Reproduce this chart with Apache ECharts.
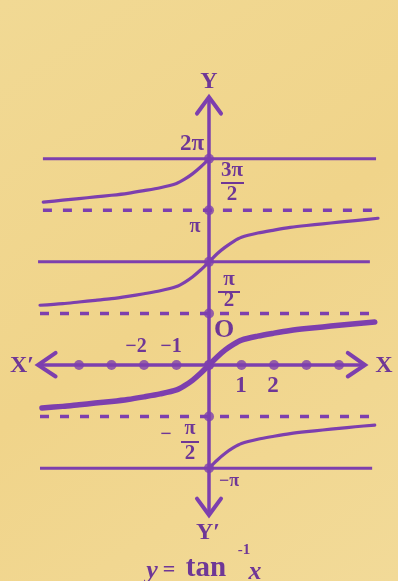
<!DOCTYPE html>
<html>
<head>
<meta charset="utf-8">
<script src="https://cdn.jsdelivr.net/npm/echarts@6/dist/echarts.min.js"></script>
<style>
html,body{margin:0;padding:0;background:#efd58f;}
#c{width:398px;height:581px;}
</style>
</head>
<body>
<div id="c"></div>
<script>
// ---- data (x in units, y in radians) ----
var PI = Math.PI;
var principalX = [-5.14, -4.5, -4, -3.5, -3, -2.5, -2, -1.5, -1, -0.75, -0.5, -0.25, 0, 0.25, 0.5, 0.75, 1, 1.5, 2, 2.5, 3, 3.5, 4, 4.5, 5.1];
var principalY = [-1.31, -1.26, -1.21, -1.16, -1.11, -1.05, -0.97, -0.88, -0.76, -0.63, -0.46, -0.245, 0, 0.245, 0.46, 0.63, 0.76, 0.88, 0.97, 1.05, 1.11, 1.16, 1.21, 1.26, 1.31];
var piBranchX = [-5.2, -4.5, -4, -3.5, -3, -2.5, -2, -1.5, -1, -0.75, -0.5, -0.25, 0, 0.25, 0.5, 0.75, 1, 1.5, 2, 2.5, 3, 3.5, 4, 4.5, 5.2];
var piBranchY = [1.82, 1.87, 1.92, 1.97, 2.02, 2.09, 2.17, 2.26, 2.39, 2.52, 2.69, 2.9, 3.14, 3.39, 3.59, 3.76, 3.89, 4.02, 4.11, 4.19, 4.25, 4.30, 4.35, 4.40, 4.47];
var twoPiBranchX = [-5.1, -4.5, -4, -3.5, -3, -2.5, -2, -1.5, -1, -0.75, -0.5, -0.25, 0];
var twoPiBranchY = [4.96, 5.02, 5.07, 5.12, 5.17, 5.23, 5.31, 5.40, 5.53, 5.66, 5.83, 6.04, 6.28];
var minusPiBranchX = [0, 0.25, 0.5, 0.75, 1, 1.5, 2, 2.5, 3, 3.5, 4, 4.5, 5.1];
var minusPiBranchY = [-3.14, -2.9, -2.69, -2.52, -2.39, -2.26, -2.17, -2.09, -2.03, -1.98, -1.93, -1.88, -1.83];

// horizontal lines: [level, xStart, xEnd]
var solidLevels = [[2 * PI, -5.11, 5.14], [PI, -5.26, 4.95], [-PI, -5.2, 5.02]];
var dashedLevels = [[1.5 * PI, -5.11, 5.1], [0.5 * PI, -5.2, 5.05], [-0.5 * PI, -5.2, 5.05]];

var xTicks = [-4, -3, -2, -1, 0, 1, 2, 3, 4];
var yDots = [2 * PI, 1.5 * PI, PI, 0.5 * PI, 0, -0.5 * PI, -PI];

// axes extents
var xAxisEnds = [-5.26, 4.8];
var yAxisEnds = [-4.57, 8.16];
// chevron arrows: [tip, arm1, arm2]
var arrowUp = [[0, 8.16], [-0.37, 7.66], [0.37, 7.66]];
var arrowDown = [[0, -4.57], [-0.37, -4.07], [0.37, -4.07]];
var arrowLeft = [[-5.26, 0], [-4.72, 0.37], [-4.72, -0.35]];
var arrowRight = [[4.8, 0], [4.27, 0.37], [4.27, -0.35]];

function zip(xs, ys) { return xs.map(function (x, i) { return [x, ys[i]]; }); }

var PURPLE = '#7d3fae';
var TEXT = '#6f3796';
var FONT = '"Liberation Serif", "DejaVu Serif", serif';

var series = [];
solidLevels.forEach(function (l) {
  series.push({ type: 'line', data: [[l[1], l[0]], [l[2], l[0]]], symbol: 'none',
    lineStyle: { color: PURPLE, width: 3 }, z: 2 });
});
dashedLevels.forEach(function (l) {
  series.push({ type: 'line', data: [[l[1], l[0]], [l[2], l[0]]], symbol: 'none',
    lineStyle: { color: PURPLE, width: 3.5, type: [9, 11] }, z: 2 });
});
// axes
series.push({ type: 'line', data: [[xAxisEnds[0], 0], [xAxisEnds[1], 0]], symbol: 'none',
  lineStyle: { color: PURPLE, width: 3.5 }, z: 3 });
series.push({ type: 'line', data: [[0, yAxisEnds[0]], [0, yAxisEnds[1]]], symbol: 'none',
  lineStyle: { color: PURPLE, width: 3.5 }, z: 3 });
[arrowUp, arrowDown, arrowLeft, arrowRight].forEach(function (a) {
  series.push({ type: 'line', data: [a[1], a[0], a[2]], symbol: 'none',
    lineStyle: { color: PURPLE, width: 4, cap: 'round', join: 'miter' }, z: 3 });
});
// curves
function curve(xs, ys, w) {
  return { type: 'line', data: zip(xs, ys), symbol: 'none', smooth: 0.3,
    lineStyle: { color: PURPLE, width: w, cap: 'round', join: 'round' }, z: 4 };
}
series.push(curve(principalX, principalY, 5.5));
series.push(curve(piBranchX, piBranchY, 3.2));
series.push(curve(twoPiBranchX, twoPiBranchY, 3.2));
series.push(curve(minusPiBranchX, minusPiBranchY, 3.2));
// dots
series.push({ type: 'scatter', data: xTicks.map(function (x) { return [x, 0]; }), symbolSize: 10,
  itemStyle: { color: PURPLE }, z: 5 });
series.push({ type: 'scatter', data: yDots.map(function (y) { return [0, y]; }), symbolSize: 10,
  itemStyle: { color: PURPLE }, z: 5 });

function txt(s, x, y, size, opts) {
  opts = opts || {};
  return { type: 'text', x: x, y: y, z: 10, style: {
    text: s, fill: TEXT, font: (opts.italic ? 'italic ' : '') + 'bold ' + size + 'px ' + FONT,
    align: 'center', verticalAlign: 'middle' } };
}
function bar(x1, x2, y) {
  return { type: 'line', z: 10, shape: { x1: x1, y1: y, x2: x2, y2: y },
    style: { stroke: TEXT, lineWidth: 2 } };
}

var graphics = [
  txt('Y', 209, 82, 24),
  txt('2π', 192, 144, 23),
  txt('3π', 232, 171, 21), bar(221, 244, 183), txt('2', 232, 195, 21),
  txt('π', 195, 227, 20),
  txt('π', 229, 280, 21), bar(218, 240, 292), txt('2', 229, 301, 21),
  txt('O', 224, 330, 26),
  txt('−2', 136, 347, 20), txt('−1', 171, 347, 20),
  txt('1', 241, 386, 23), txt('2', 273, 386, 23),
  txt('X\u2032', 22, 366, 24), txt('X', 384, 366, 24),
  txt('−', 166, 435, 20), txt('π', 190, 429, 20), bar(181, 199, 442), txt('2', 190, 454, 21),
  txt('−π', 229, 481, 18),
  txt('Y\u2032', 208, 533, 24),
  txt('y', 152, 571, 26, { italic: true }), txt('=', 169, 570, 22), txt('tan', 206, 569, 29),
  txt('-1', 244, 550, 15), txt('x', 255, 572, 26, { italic: true })
];

var chart = echarts.init(document.getElementById('c'));
chart.setOption({
  animation: false,
  backgroundColor: {
    type: 'linear', x: 0, y: 0, x2: 1, y2: 1,
    colorStops: [{ offset: 0, color: '#f1d994' }, { offset: 0.5, color: '#f0d48a' }, { offset: 1, color: '#f2da98' }]
  },
  grid: { left: 0, right: 0, top: 0, bottom: 0 },
  xAxis: { type: 'value', min: -6.4308, max: 5.8154, show: false },
  yAxis: { type: 'value', min: -6.579, max: 11.118, show: false },
  series: series,
  graphic: graphics
});
</script>
</body>
</html>
